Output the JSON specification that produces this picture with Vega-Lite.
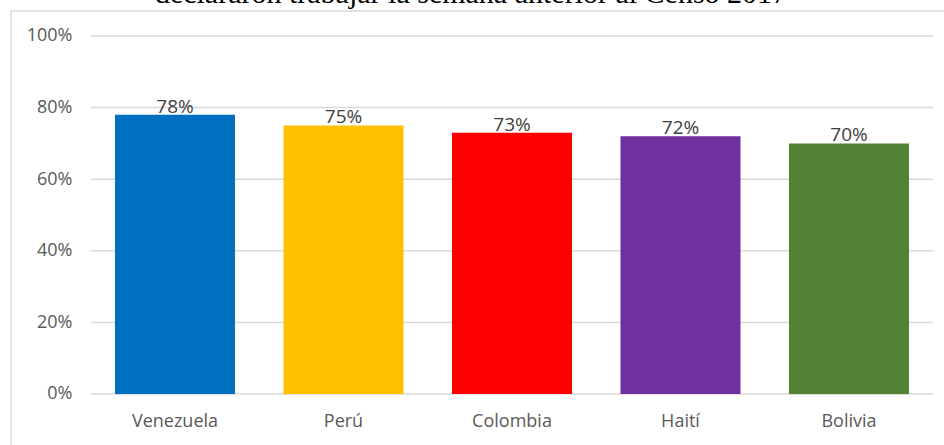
{
  "$schema": "https://vega.github.io/schema/vega-lite/v6.json",
  "width": 940,
  "height": 440,
  "autosize": {"type": "none"},
  "padding": {"left": 11, "top": 11, "right": 0, "bottom": 0},
  "background": "white",
  "title": {
    "text": "declararon trabajar la semana anterior al Censo 2017",
    "font": "Liberation Serif",
    "fontSize": 30,
    "fontWeight": "normal",
    "color": "#000000",
    "anchor": "middle",
    "offset": 2,
    "dx": -10
  },
  "config": {
    "view": {"stroke": "#d9d9d9", "strokeWidth": 1.5}
  },
  "data": {
    "values": [
      {"pais": "Venezuela", "valor": 0.78},
      {"pais": "Perú", "valor": 0.75},
      {"pais": "Colombia", "valor": 0.73},
      {"pais": "Haití", "valor": 0.72},
      {"pais": "Bolivia", "valor": 0.70}
    ]
  },
  "layer": [
    {
      "data": {"values": [{"v": 0}, {"v": 0.2}, {"v": 0.4}, {"v": 0.6}, {"v": 0.8}, {"v": 1}]},
      "mark": {"type": "rule", "color": "#d9d9d9", "strokeWidth": 1.5},
      "encoding": {
        "y": {
          "field": "v",
          "type": "quantitative",
          "scale": {"domain": [-0.15922, 1.06983], "nice": false, "zero": false},
          "axis": {
            "values": [0, 0.2, 0.4, 0.6, 0.8, 1],
            "format": ".0%",
            "offset": -80,
            "domain": false,
            "ticks": false,
            "grid": false,
            "labelPadding": 19,
            "title": null,
            "labelFont": "Open Sans",
            "labelFontSize": 18,
            "labelColor": "#595959"
          }
        },
        "x": {"datum": "Venezuela", "type": "nominal", "bandPosition": -0.2021},
        "x2": {"datum": "Bolivia", "bandPosition": 1.2021}
      }
    },
    {
      "mark": {"type": "bar"},
      "encoding": {
        "x": {
          "field": "pais",
          "type": "nominal",
          "scale": {
            "domain": ["Venezuela", "Perú", "Colombia", "Haití", "Bolivia"],
            "paddingInner": 0.2878,
            "paddingOuter": 0.4332,
            "align": 0.7123
          },
          "axis": {
            "orient": "bottom",
            "offset": -57,
            "bandPosition": 0.5,
            "domain": false,
            "ticks": false,
            "grid": false,
            "labelAngle": 0,
            "labelAlign": "center",
            "labelPadding": 27,
            "title": null,
            "labelFont": "Open Sans",
            "labelFontSize": 18,
            "labelColor": "#595959"
          }
        },
        "y": {"field": "valor", "type": "quantitative"},
        "y2": {"datum": 0},
        "color": {
          "field": "pais",
          "type": "nominal",
          "scale": {
            "domain": ["Venezuela", "Perú", "Colombia", "Haití", "Bolivia"],
            "range": ["#0070C0", "#FFC000", "#FF0000", "#7030A0", "#548235"]
          },
          "legend": null
        }
      }
    },
    {
      "mark": {"type": "text", "baseline": "bottom", "dy": 2, "font": "Open Sans", "fontSize": 19, "color": "#404040"},
      "encoding": {
        "x": {"field": "pais", "type": "nominal"},
        "y": {"field": "valor", "type": "quantitative"},
        "text": {"field": "valor", "type": "quantitative", "format": ".0%"}
      }
    }
  ]
}
